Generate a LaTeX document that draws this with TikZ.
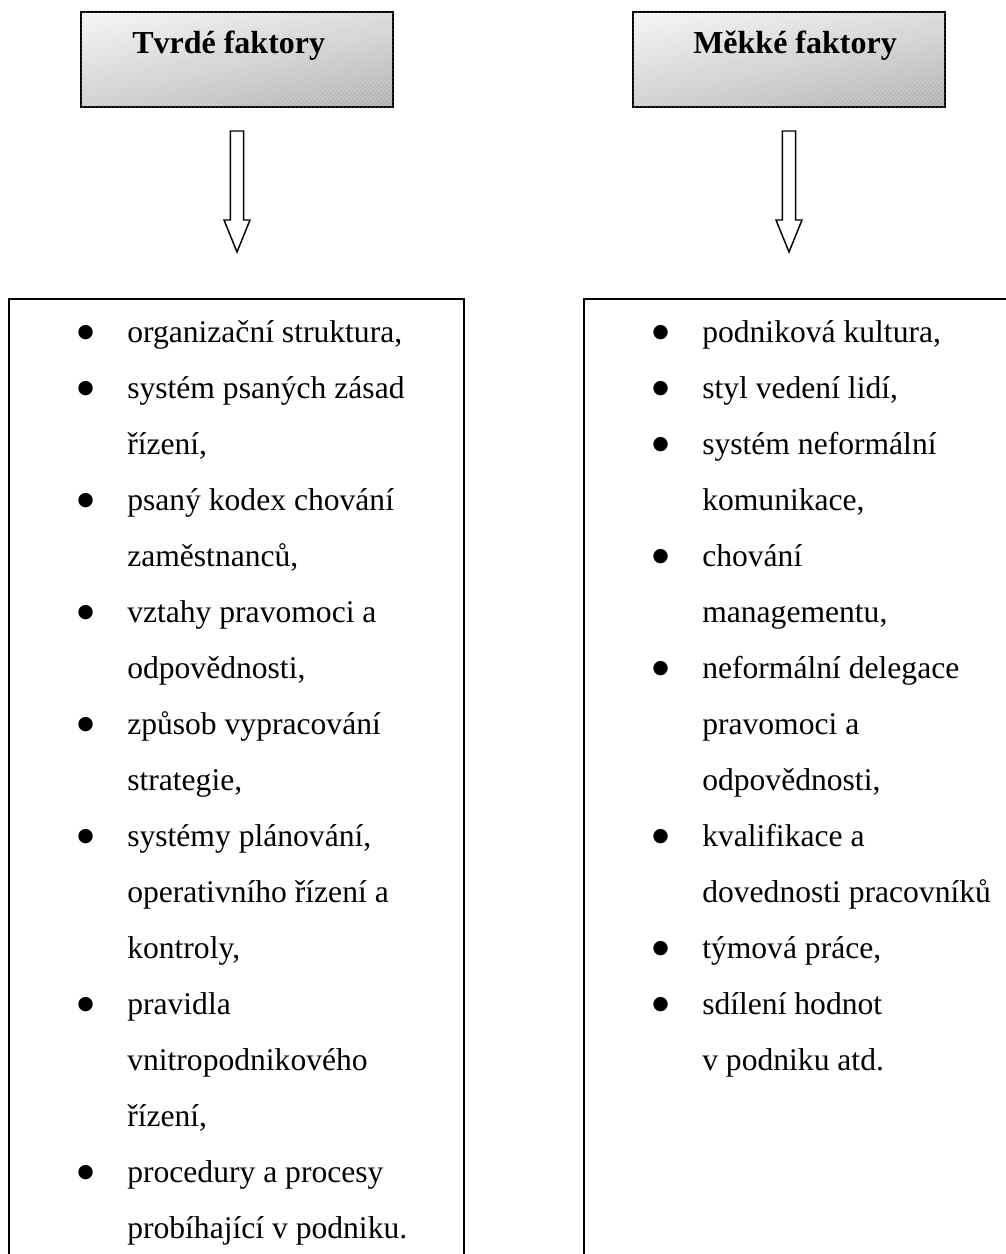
\documentclass[tikz,border=0pt]{standalone}
\usepackage{fontspec}
\usepackage{graphicx}
\setmainfont{Liberation Serif}
\usetikzlibrary{calc,patterns,shadings}

% bullet hanging in the left margin of a list line
\newcommand\bul{\llap{\makebox[38.5pt][l]{\raisebox{-8pt}{\scalebox{1.9}{\textbullet}}}}}

\tikzset{
  header/.style={draw=black, line width=1.5pt, inner sep=0pt, outer sep=0pt,
    minimum width=234pt, minimum height=71.25pt,
    upper left=gray!8, upper right=gray!28, lower left=gray!38, lower right=gray!62,
    postaction={pattern=north east lines, pattern color=white, opacity=0.3}},
  headtext/.style={anchor=base west, inner sep=0pt, font=\fontsize{24}{28}\selectfont\bfseries},
  listbox/.style={draw=black, line width=1.5pt, inner sep=0pt, outer sep=0pt},
  listline/.style={anchor=base west, inner sep=0pt, font=\fontsize{23.7}{28}\selectfont},
  blockarrow/.style={draw=black, line width=1.1pt, fill=white,
    to path={let \p1=(\tikztostart), \p2=(\tikztotarget) in
      (\x1-4.9pt,\y1) -- (\x1+4.9pt,\y1) -- (\x1+4.9pt,\y2+24pt)
      -- (\x1+9.75pt,\y2+24pt) -- (\x1,\y2) -- (\x1-9.75pt,\y2+24pt)
      -- (\x1-4.9pt,\y2+24pt) -- cycle}}
}

\begin{document}
\begin{tikzpicture}[x=0.75pt,y=-0.75pt]
\useasboundingbox (0,0) rectangle (1006,1254);
\clip (0,0) rectangle (1006,1254);
\fill[white] (0,0) rectangle (1006,1254);

% headers
\node[header] (hard) at (237,59.5) {};
\node[header] (soft) at (789,59.5) {};
\node[headtext] (hardlbl) at (132,53) {Tvrdé faktory};
\node[headtext] (softlbl) at (693,53) {Měkké faktory};

% list frames (their lower parts run past the page edge)
\node[listbox, minimum width=341.25pt, minimum height=750pt] (hardbox) at (236.5,799) {};
\node[listbox, minimum width=349.5pt, minimum height=750pt] (softbox) at (817,799) {};

% hollow arrows from the headers down to the lists
\coordinate (ha1) at ($(hard.south)+(0,24)$);
\coordinate (ha2) at ($(hardbox.north -| hard.south)+(0,-47)$);
\coordinate (sa1) at ($(soft.south)+(0,24)$);
\coordinate (sa2) at ($(softbox.north -| soft.south)+(0,-47)$);
\draw[blockarrow] (ha1) to (ha2);
\draw[blockarrow] (sa1) to (sa2);

% hard factors
\foreach \t [count=\i from 0] in {
  {\bul organizační struktura,},
  {\bul systém psaných zásad},
  {řízení,},
  {\bul psaný kodex chování},
  {zaměstnanců,},
  {\bul vztahy pravomoci a},
  {odpovědnosti,},
  {\bul způsob vypracování},
  {strategie,},
  {\bul systémy plánování,},
  {operativního řízení a},
  {kontroly,},
  {\bul pravidla},
  {vnitropodnikového},
  {řízení,},
  {\bul procedury a procesy},
  {probíhající v podniku.}}
  {\node[listline] (h\i) at (127,{342+56*\i}) {\t};}

% soft factors
\foreach \t [count=\i from 0] in {
  {\bul podniková kultura,},
  {\bul styl vedení lidí,},
  {\bul systém neformální},
  {komunikace,},
  {\bul chování},
  {managementu,},
  {\bul neformální delegace},
  {pravomoci a},
  {odpovědnosti,},
  {\bul kvalifikace a},
  {dovednosti pracovníků},
  {\bul týmová práce,},
  {\bul sdílení hodnot},
  {v podniku atd.}}
  {\node[listline] (s\i) at (702,{342+56*\i}) {\t};}
\end{tikzpicture}
\end{document}
